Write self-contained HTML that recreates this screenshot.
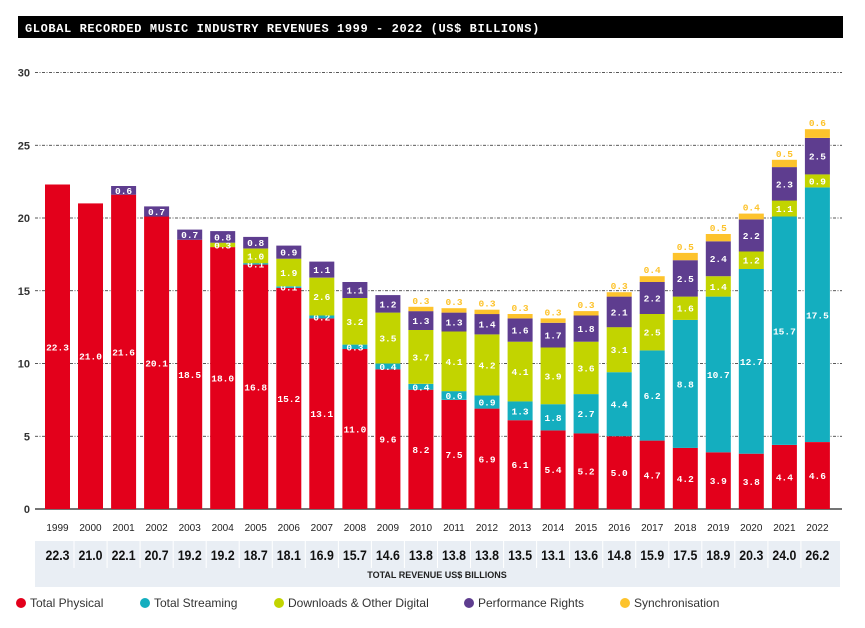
<!DOCTYPE html>
<html><head><meta charset="utf-8"><style>
body{margin:0;background:#fff;width:865px;height:628px;overflow:hidden}
svg{display:block}
</style></head><body>
<svg id="s" width="865" height="628" xmlns="http://www.w3.org/2000/svg" font-family="Liberation Sans, sans-serif">
<rect x="18" y="16" width="825" height="22" fill="#000"/>
<text x="25" y="32" fill="#fff" font-family="Liberation Mono, monospace" font-size="12" font-weight="bold" letter-spacing="0.6">GLOBAL RECORDED MUSIC INDUSTRY REVENUES 1999 - 2022 (US$ BILLIONS)</text>
<rect x="35" y="541" width="805" height="46" fill="#e9eef4"/>
<g id="g"></g>
<text x="437" y="578" text-anchor="middle" font-size="9" font-weight="bold" fill="#222" transform="scale(1,1)">TOTAL REVENUE US$ BILLIONS</text>
<g font-size="12" fill="#333">
<circle cx="21" cy="603" r="5" fill="#e3001b"/><text x="30" y="607">Total Physical</text>
<circle cx="145" cy="603" r="5" fill="#14aebf"/><text x="154" y="607">Total Streaming</text>
<circle cx="279" cy="603" r="5" fill="#c2d400"/><text x="288" y="607">Downloads &amp; Other Digital</text>
<circle cx="469" cy="603" r="5" fill="#5e3d8f"/><text x="478" y="607">Performance Rights</text>
<circle cx="625" cy="603" r="5" fill="#fdc32c"/><text x="634" y="607">Synchronisation</text>
</g>
</svg>
<script>
var D=[[22.3,0,0,0,0],[21.0,0,0,0,0],[21.6,0,0,0.6,0],[20.1,0,0,0.7,0],[18.5,0,0,0.7,0],[18.0,0,0.3,0.8,0],[16.8,0.1,1.0,0.8,0],[15.2,0.1,1.9,0.9,0],[13.1,0.2,2.6,1.1,0],[11.0,0.3,3.2,1.1,0],[9.6,0.4,3.5,1.2,0],[8.2,0.4,3.7,1.3,0.3],[7.5,0.6,4.1,1.3,0.3],[6.9,0.9,4.2,1.4,0.3],[6.1,1.3,4.1,1.6,0.3],[5.4,1.8,3.9,1.7,0.3],[5.2,2.7,3.6,1.8,0.3],[5.0,4.4,3.1,2.1,0.3],[4.7,6.2,2.5,2.2,0.4],[4.2,8.8,1.6,2.5,0.5],[3.9,10.7,1.4,2.4,0.5],[3.8,12.7,1.2,2.2,0.4],[4.4,15.7,1.1,2.3,0.5],[4.6,17.5,0.9,2.5,0.6]];
var T=["22.3","21.0","22.1","20.7","19.2","19.2","18.7","18.1","16.9","15.7","14.6","13.8","13.8","13.8","13.5","13.1","13.6","14.8","15.9","17.5","18.9","20.3","24.0","26.2"];
var C=["#e3001b","#14aebf","#c2d400","#5e3d8f","#fdc32c"];
var h='',k=14.55,y0=509;
for(var v=0;v<=30;v+=5){var y=y0-v*k;
h+='<text x="30" y="'+(y+4)+'" text-anchor="end" font-size="11" font-weight="bold" fill="#333">'+v+'</text>';
h+='<line x1="35" x2="842" y1="'+y+'" y2="'+y+'" stroke="#222" stroke-width="'+(v?0.8:1.2)+'" '+(v?'stroke-dasharray="3,1.5,1,1.5"':'')+'/>';}
for(var i=0;i<24;i++){var x=45+i*33.04,cum=0;
for(var j=0;j<5;j++){var d=D[i][j];if(!d)continue;var yt=y0-(cum+d)*k,hh=d*k;
h+='<rect x="'+x.toFixed(1)+'" y="'+yt.toFixed(1)+'" width="25" height="'+hh.toFixed(1)+'" fill="'+C[j]+'"/>';
if(j<4)h+='<text x="'+(x+12.5).toFixed(1)+'" y="'+(yt+hh/2+3.5).toFixed(1)+'" text-anchor="middle" font-family="Liberation Mono, monospace" font-size="9.5" font-weight="bold" fill="#fff">'+d.toFixed(1)+'</text>';
else h+='<text x="'+(x+12.5).toFixed(1)+'" y="'+(yt-3).toFixed(1)+'" text-anchor="middle" font-family="Liberation Mono, monospace" font-size="9.5" font-weight="bold" fill="#fdc32c">'+d.toFixed(1)+'</text>';
cum+=d;}
h+='<text x="'+(x+12.5).toFixed(1)+'" y="531" text-anchor="middle" font-size="10" fill="#222">'+(1999+i)+'</text>';
if(i>0)h+='<line x1="'+(x-4).toFixed(1)+'" x2="'+(x-4).toFixed(1)+'" y1="541" y2="568" stroke="#fff" stroke-width="1"/>';
h+='<text x="'+(x+12.5).toFixed(1)+'" y="560" text-anchor="middle" font-size="14" font-weight="bold" fill="#111" textLength="24" lengthAdjust="spacingAndGlyphs">'+T[i]+'</text>';}
document.getElementById('g').innerHTML=h;
</script>
</body></html>
